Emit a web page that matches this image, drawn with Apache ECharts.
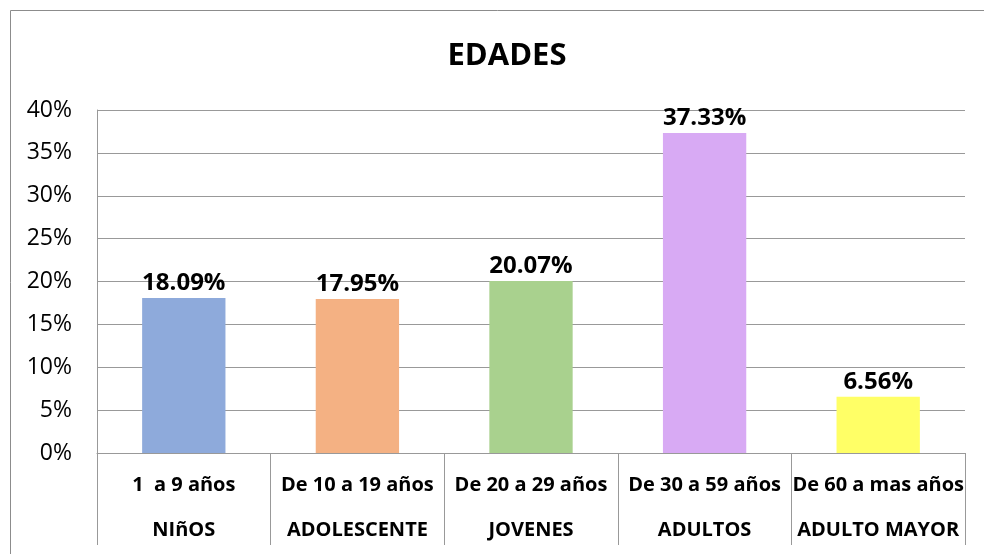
<!DOCTYPE html>
<html><head><meta charset="utf-8">
<script src="https://cdn.jsdelivr.net/npm/echarts@6/dist/echarts.min.js"></script>
<style>html,body{margin:0;padding:0;background:#fff}#c{width:984px;height:554px}</style>
</head><body><div id="c"></div>
<script>
const rangeLabels = ['1  a 9 años','De 10 a 19 años','De 20 a 29 años','De 30 a 59 años','De 60 a mas años'];
const groupLabels = ['NIñOS','ADOLESCENTE','JOVENES','ADULTOS','ADULTO MAYOR'];
const values = [18.09, 17.95, 20.07, 37.33, 6.56];
const colors = ['#8EAADB','#F4B183','#A9D18E','#D8AAF4','#FFFF66'];
const yTicks = [0,5,10,15,20,25,30,35,40];

const FONT = '"Open Sans", sans-serif';
const chart = echarts.init(document.getElementById('c'));
chart.setOption({
  animation:false,
  title:{text:'EDADES', left:502, top:36, textAlign:'center',
    textStyle:{fontFamily:FONT, fontWeight:'bold', fontSize:31, color:'#000'}},
  graphic:[{type:'rect', shape:{x:10.5,y:10.5,width:1000,height:600}, style:{fill:null, stroke:'#8c8c8c', lineWidth:1}, silent:true, z:-1}],
  grid:{left:97, right:19, top:110, bottom:101, containLabel:false},
  xAxis:{type:'category', data:rangeLabels.map((r,i)=>i),
    axisLine:{lineStyle:{color:'#999'}},
    axisTick:{show:true, length:92, interval:0, alignWithLabel:false, lineStyle:{color:'#999'}},
    axisLabel:{interval:0, margin:10, fontFamily:FONT, fontWeight:'bold', fontSize:20, color:'#000', lineHeight:45,
      formatter:(v,i)=>rangeLabels[i]+'\n'+groupLabels[i]}},
  yAxis:{type:'value', min:yTicks[0], max:yTicks[yTicks.length-1], interval:5,
    axisLine:{show:true, lineStyle:{color:'#999'}},
    axisTick:{show:false},
    splitLine:{lineStyle:{color:'#999'}},
    axisLabel:{margin:25, fontFamily:FONT, fontSize:23, color:'#000', formatter:v=>v+'%'}},
  series:[{type:'bar', barWidth:'48%',
    data:values.map((v,i)=>({value:v, itemStyle:{color:colors[i]}})),
    label:{show:true, position:'top', distance:3, fontFamily:FONT, fontWeight:'bold', fontSize:24, color:'#000',
      formatter:p=>p.value.toFixed(2)+'%'}}]
});
</script></body></html>
